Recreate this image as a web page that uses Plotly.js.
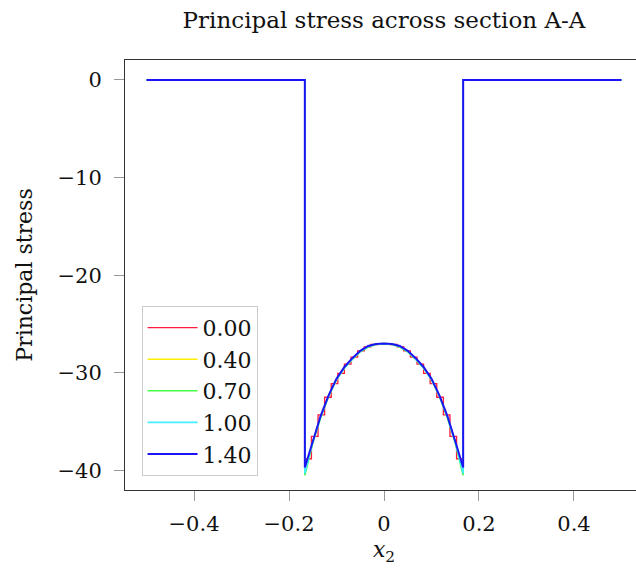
<!DOCTYPE html>
<html>
<head>
<meta charset="utf-8">
<script src="https://cdn.plot.ly/plotly-3.0.1.min.js"></script>
<style>
html, body { margin: 0; padding: 0; overflow: hidden; background: #fff; width: 636px; height: 569px; }
#plot { width: 646px; height: 569px; }
</style>
</head>
<body>
<div id="plot"></div>
<script>
// Legend labels (parameter values)
const seriesNames = ["0.00", "0.40", "0.70", "1.00", "1.40"];
const seriesColors = ["#ff1a3c", "#ffee00", "#44ff44", "#44eeff", "#1c14f2"];

// Node positions along section A-A (x2)
const xNodes = [-0.5, -0.16667, -0.16667, -0.15, -0.13333, -0.11667, -0.1, -0.08333, -0.06667, -0.05, -0.03333, -0.01667, 0,
  0.01667, 0.03333, 0.05, 0.06667, 0.08333, 0.1, 0.11667, 0.13333, 0.15, 0.16667, 0.16667, 0.5];

// Smooth series (nodal values)
const s040 = [0, 0, -40.1, -37.1, -34.5, -32.4, -30.7, -29.5, -28.6, -27.8, -27.3, -27.05, -27.0,
  -27.05, -27.3, -27.8, -28.6, -29.5, -30.7, -32.4, -34.5, -37.1, -40.1, 0, 0];
const s070 = [0, 0, -40.5, -37.2, -34.6, -32.4, -30.7, -29.5, -28.6, -27.85, -27.35, -27.1, -27.05,
  -27.1, -27.35, -27.85, -28.6, -29.5, -30.7, -32.4, -34.6, -37.2, -40.5, 0, 0];
const s100 = [0, 0, -40.3, -37.1, -34.5, -32.4, -30.7, -29.5, -28.6, -27.8, -27.3, -27.05, -27.0,
  -27.05, -27.3, -27.8, -28.6, -29.5, -30.7, -32.4, -34.5, -37.1, -40.3, 0, 0];
const s140 = [0, 0, -39.7, -37.0, -34.4, -32.3, -30.6, -29.4, -28.5, -27.75, -27.25, -27.05, -27.0,
  -27.05, -27.25, -27.75, -28.5, -29.4, -30.6, -32.3, -34.4, -37.0, -39.7, 0, 0];

// Element-wise (piecewise constant) series 0.00: left boundaries of elements
const xElem = [-0.5, -0.16667, -0.16667, -0.15278, -0.13889, -0.125, -0.11111, -0.09722, -0.08333, -0.06944, -0.05556, -0.04167, -0.02778, -0.01389,
  0, 0.01389, 0.02778, 0.04167, 0.05556, 0.06944, 0.08333, 0.09722, 0.11111, 0.125, 0.13889, 0.15278, 0.16667, 0.5];
const s000 = [0, 0, -38.8, -36.5, -34.3, -32.5, -31.1, -30.05, -29.1, -28.4, -27.75, -27.35, -27.1, -27.02,
  -27.02, -27.1, -27.35, -27.75, -28.4, -29.1, -30.05, -31.1, -32.5, -34.3, -36.5, -38.8, 0, 0];

const xTicks = [-0.4, -0.2, 0, 0.2, 0.4];
const xTickText = ["\u22120.4", "\u22120.2", "0", "0.2", "0.4"];
const yTicks = [0, -10, -20, -30, -40];
const yTickText = ["0", "\u221210", "\u221220", "\u221230", "\u221240"];

const font = "DejaVu Serif";
const lw = 1.6;

const traces = [
  {x: xElem, y: s000, name: seriesNames[0], mode: "lines", line: {color: seriesColors[0], width: 1.3, shape: "hv"}},
  {x: xNodes, y: s040, name: seriesNames[1], mode: "lines", line: {color: seriesColors[1], width: lw}},
  {x: xNodes, y: s070, name: seriesNames[2], mode: "lines", line: {color: seriesColors[2], width: lw}},
  {x: xNodes, y: s100, name: seriesNames[3], mode: "lines", line: {color: seriesColors[3], width: lw}},
  {x: xNodes, y: s140, name: seriesNames[4], mode: "lines", line: {color: seriesColors[4], width: 2}}
];

const layout = {
  width: 646, height: 569,
  margin: {l: 125, r: 3, t: 60, b: 79},
  paper_bgcolor: "#fff", plot_bgcolor: "#fff",
  font: {family: font, size: 21, color: "#111"},
  title: {text: "Principal stress across section A-A", font: {family: font, size: 23, color: "#111"},
    x: 0.5, xref: "paper", xanchor: "center", y: 1 - 20 / 569, yref: "container", yanchor: "middle"},
  xaxis: {
    range: [-0.5453, 0.5453], showgrid: false, zeroline: false,
    showline: true, linecolor: "#333", linewidth: 1, mirror: true,
    ticks: "outside", ticklen: 10, tickcolor: "#999", tickwidth: 1,
    tickvals: xTicks, ticktext: xTickText, ticklabelstandoff: 5,
    tickfont: {family: font, size: 21, color: "#111"},
    title: {text: "<i>x</i><sub>2</sub>", font: {family: font, size: 22, color: "#111"}, standoff: 6}
  },
  yaxis: {
    range: [-42.0, 2.04], showgrid: false, zeroline: false,
    showline: true, linecolor: "#333", linewidth: 1, mirror: true,
    ticks: "outside", ticklen: 10, tickcolor: "#999", tickwidth: 1,
    tickvals: yTicks, ticktext: yTickText, ticklabelstandoff: 8,
    tickfont: {family: font, size: 21, color: "#111"},
    title: {text: "Principal stress", font: {family: font, size: 22, color: "#111"}, standoff: 18}
  },
  legend: {
    x: 0.032, y: 0.033, xanchor: "left", yanchor: "bottom",
    bgcolor: "#fff", bordercolor: "#ccc", borderwidth: 1,
    font: {family: font, size: 22, color: "#111"},
    itemwidth: 50, tracegroupgap: 0
  },
  showlegend: true
};

Plotly.newPlot("plot", traces, layout, {displayModeBar: false, staticPlot: true});
</script>
</body>
</html>
